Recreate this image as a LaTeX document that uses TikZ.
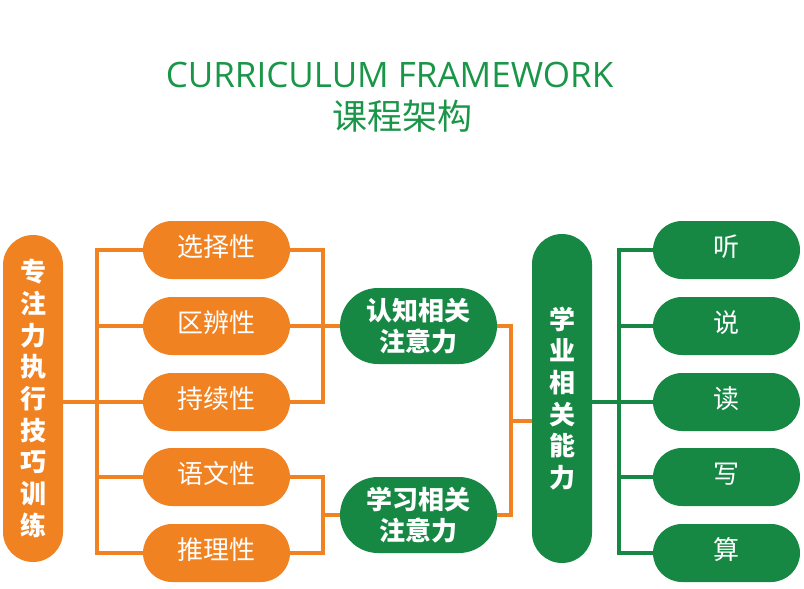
\documentclass[tikz,border=0pt]{standalone}
\usepackage{fontspec}
\setmainfont{Noto Sans CJK SC}
\newfontfamily\latinfont{Open Sans}
\definecolor{orng}{RGB}{240,130,34}
\definecolor{grn}{RGB}{22,136,68}
\definecolor{titlegrn}{RGB}{26,150,72}
\begin{document}
\begin{tikzpicture}[x=1pt,y=-1pt,
  pill/.style={rectangle, rounded corners=#1, inner sep=0pt, text=white},
  opill/.style={pill=29pt, fill=orng, minimum width=147pt, minimum height=58pt, text height=23pt, text depth=11pt, font=\fontsize{26}{30}\selectfont},
  gpill/.style={pill=29pt, fill=grn, minimum width=147pt, minimum height=58pt, text height=23pt, text depth=11pt, font=\fontsize{26}{30}\selectfont},
  mpill/.style={pill=38pt, fill=grn, minimum width=157pt, minimum height=76pt, align=center, font=\bfseries\fontsize{26}{31}\selectfont},
  tall/.style={pill=30pt, minimum width=60pt, align=center, font=\bfseries\fontsize{26}{31.7}\selectfont},
  oline/.style={draw=orng, line width=4pt},
  gline/.style={draw=grn, line width=4pt}
]
\useasboundingbox (0,0) rectangle (804,589);
% title
\node[text=titlegrn, font=\latinfont\fontsize{35}{38}\selectfont] (t1) at (389.5,74.5) {CURRICULUM FRAMEWORK};
\node[text=titlegrn, font=\fontsize{35}{38}\selectfont] (t2) at (402.5,116.5) {课程架构};
% nodes
\node[tall, fill=orng, minimum height=327pt] (L) at (33,398.5) {专\\注\\力\\执\\行\\技\\巧\\训\\练};
\node[opill] (o1) at (216.5,250) {选择性};
\node[opill] (o2) at (216.5,326) {区辨性};
\node[opill] (o3) at (216.5,402) {持续性};
\node[opill] (o4) at (216.5,477) {语文性};
\node[opill] (o5) at (216.5,553) {推理性};
\node[mpill] (m1) at (418.5,326) {认知相关\\注意力};
\node[mpill] (m2) at (418.5,515) {学习相关\\注意力};
\node[tall, fill=grn, minimum height=329pt] (R) at (562,398.5) {学\\业\\相\\关\\能\\力};
\node[gpill] (g1) at (726.5,250) {听};
\node[gpill] (g2) at (726.5,326) {说};
\node[gpill] (g3) at (726.5,402) {读};
\node[gpill] (g4) at (726.5,477) {写};
\node[gpill] (g5) at (726.5,553) {算};
% bus coordinates
\coordinate (lb) at (97,0);
\coordinate (rb) at (323,0);
\coordinate (mb) at (511,0);
\coordinate (mc) at (511,420.5);
\coordinate (gb) at (619,0);
% left orange connectors
\draw[oline] (L.east |- o3.west) -- (o3.west);
\draw[oline] (o1.west) -- (o1.west -| lb) -- (o5.west -| lb) -- (o5.west);
\draw[oline] (o2.west -| lb) -- (o2.west);
\draw[oline] (o4.west -| lb) -- (o4.west);
% right of orange
\draw[oline] (o1.east) -- (o1.east -| rb) -- (o3.east -| rb) -- (o3.east);
\draw[oline] (o2.east) -- (m1.west);
\draw[oline] (o4.east) -- (o4.east -| rb) -- (o5.east -| rb) -- (o5.east);
\draw[oline] (rb |- m2.west) -- (m2.west);
% mid to right tall
\draw[oline] (m1.east) -- (m1.east -| mb) -- (m2.east -| mb) -- (m2.east);
\draw[oline] (mc) -- (mc -| R.west);
% right green
\draw[gline] (R.east |- g3.west) -- (g3.west);
\draw[gline] (g1.west) -- (g1.west -| gb) -- (g5.west -| gb) -- (g5.west);
\draw[gline] (g2.west -| gb) -- (g2.west);
\draw[gline] (g4.west -| gb) -- (g4.west);
\end{tikzpicture}
\end{document}
